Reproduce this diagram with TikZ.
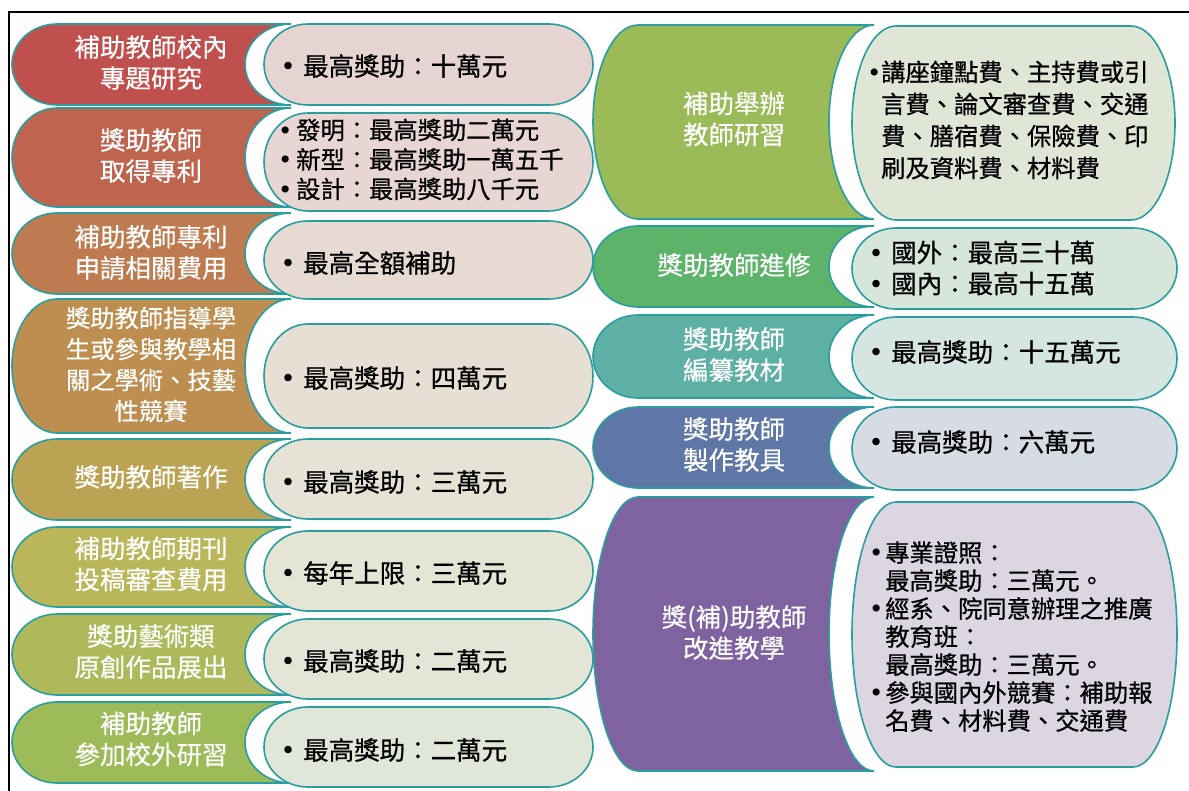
\documentclass[tikz,border=0pt]{standalone}
\usepackage{fontspec}
\newfontfamily\cjk[FakeBold=0.3]{Noto Sans CJK TC}
\newfontfamily\cjkb[FakeBold=0.7]{Noto Sans CJK TC}
\newfontfamily\bfont{DejaVu Sans}
\definecolor{tealc}{HTML}{2A9D9E}
\definecolor{l1}{HTML}{C0504D}\definecolor{q1}{HTML}{E6D4D3}
\definecolor{l2}{HTML}{BF654F}\definecolor{q2}{HTML}{E7D6D3}
\definecolor{l3}{HTML}{BE7B50}\definecolor{q3}{HTML}{E7DAD3}
\definecolor{l4}{HTML}{BD8E4F}\definecolor{q4}{HTML}{E7DED4}
\definecolor{l5}{HTML}{BCA353}\definecolor{q5}{HTML}{E6E2D5}
\definecolor{l6}{HTML}{BAB65A}\definecolor{q6}{HTML}{E5E5D6}
\definecolor{l7}{HTML}{ADB95A}\definecolor{q7}{HTML}{E3E6D7}
\definecolor{l8}{HTML}{9DBB59}\definecolor{q8}{HTML}{E1E7D8}
\definecolor{r1}{HTML}{9BBB59}\definecolor{s1}{HTML}{DFE6D6}
\definecolor{r2}{HTML}{5DB36A}\definecolor{s2}{HTML}{D6E6DA}
\definecolor{r3}{HTML}{5FB0A4}\definecolor{s3}{HTML}{D5E6E2}
\definecolor{r4}{HTML}{5E77A7}\definecolor{s4}{HTML}{D6DBE4}
\definecolor{r5}{HTML}{7F63A1}\definecolor{s5}{HTML}{DCD6E2}
% left tab: x0, xr, xb, top, bottom, fill
\newcommand\lshape[6]{%
  \pgfmathsetmacro\lry{(#5-#4)/2}%
  \pgfmathsetmacro\lrb{#2-#3}%
  \filldraw[outl, fill=#6] (#1+45,#4) -- (#2,#4)
    arc[start angle=90,end angle=270,x radius=\lrb pt,y radius=\lry pt]
    -- (#1+45,#5)
    arc[start angle=270,end angle=90,x radius=45pt,y radius=\lry pt] -- cycle;}
% pill: x0, x1, top, bottom, fill
\newcommand\pill[5]{%
  \pgfmathsetmacro\pry{(#4-#3)/2}%
  \filldraw[outl, fill=#5] (#1+44,#3) -- (#2-44,#3)
    arc[start angle=90,end angle=-90,x radius=44pt,y radius=\pry pt]
    -- (#1+44,#4)
    arc[start angle=270,end angle=90,x radius=44pt,y radius=\pry pt] -- cycle;}
\newcommand\bul[1]{\makebox[#1pt][l]{\hspace*{4pt}\makebox[0pt][c]{\bfont •}}}
\begin{document}
\begin{tikzpicture}[x=1pt,y=-1pt,
  outl/.style={draw=tealc, line width=1.6pt},
  ltext/.style={text=white, align=center, inner sep=0pt, font=\cjk\fontsize{25.5}{31}\selectfont},
  ltexts/.style={ltext, font=\cjk\fontsize{24.3}{31}\selectfont},
  ptext/.style={text=black, align=left, anchor=west, inner sep=0pt, font=\cjkb\fontsize{25.5}{31}\selectfont},
  ptexts/.style={ptext, font=\cjkb\fontsize{24.3}{29.5}\selectfont},
]
\useasboundingbox (0,0) rectangle (1189,790);
\clip (0,0) rectangle (1189,790);
\fill[white] (0,0) rectangle (1189,790);
\draw[line width=1.6pt] (9,12) rectangle (1230,840);

% ---------- left column ----------
\lshape{12}{291}{245}{24}{105}{l1}  \pill{264}{593}{24}{105}{q1}
\lshape{12}{291}{245}{108}{207}{l2} \pill{264}{593}{113}{211}{q2}
\lshape{12}{291}{245}{213}{294}{l3} \pill{264}{593}{221}{299}{q3}
\lshape{12}{291}{245}{299}{433}{l4} \pill{264}{593}{324}{428}{q4}
\lshape{12}{291}{245}{439}{520}{l5} \pill{264}{593}{439}{519}{q5}
\lshape{12}{291}{245}{527}{607}{l6} \pill{264}{593}{531}{611}{q6}
\lshape{12}{291}{245}{614}{695}{l7} \pill{264}{593}{619}{699}{q7}
\lshape{12}{291}{245}{702}{783}{l8} \pill{264}{593}{707}{787}{q8}

\node[ltext] (t1) at (151,62.5) {補助教師校內\\專題研究};
\node[ltext] (t2) at (151,155.5) {獎助教師\\取得專利};
\node[ltext] (t3) at (151,252.5) {補助教師專利\\申請相關費用};
\node[ltexts] (t4) at (151,364.5) {獎助教師指導學\\生或參與教學相\\關之學術、技藝\\性競賽};
\node[ltext] (t5) at (151,477) {獎助教師著作};
\node[ltext] (t6) at (151,564) {補助教師期刊\\投稿審查費用};
\node[ltext] (t7) at (151,651.5) {獎助藝術類\\原創作品展出};
\node[ltext] (t8) at (151,739) {補助教師\\參加校外研習};

\node[ptext] (u1) at (284,66) {\bul{19}最高獎助：十萬元};
\node[ptexts] (u2) at (281,159.5) {\bul{15}發明：最高獎助二萬元\\\bul{15}新型：最高獎助一萬五千\\\bul{15}設計：最高獎助八千元};
\node[ptext] (u3) at (284,263) {\bul{19}最高全額補助};
\node[ptext] (u4) at (284,378) {\bul{19}最高獎助：四萬元};
\node[ptext] (u5) at (284,482) {\bul{19}最高獎助：三萬元};
\node[ptext] (u6) at (284,573) {\bul{19}每年上限：三萬元};
\node[ptext] (u7) at (284,661) {\bul{19}最高獎助：二萬元};
\node[ptext] (u8) at (284,750) {\bul{19}最高獎助：二萬元};

% ---------- right column ----------
\lshape{593}{874}{829}{25}{219}{r1}  \pill{852}{1175}{26}{220}{s1}
\lshape{593}{874}{829}{226}{307}{r2} \pill{852}{1177}{228}{309}{s2}
\lshape{593}{874}{829}{315}{398}{r3} \pill{852}{1177}{317}{400}{s3}
\lshape{593}{874}{829}{407}{488}{r4} \pill{852}{1177}{407}{490}{s4}
\lshape{593}{874}{829}{497}{771}{r5} \pill{852}{1177}{502}{767}{s5}

\node[ltext] (v1) at (734,119) {補助舉辦\\教師研習};
\node[ltext] (v2) at (734,265) {獎助教師進修};
\node[ltext] (v3) at (734,354.5) {獎助教師\\編纂教材};
\node[ltext] (v4) at (734,444.5) {獎助教師\\製作教具};
\node[ltext] (v5) at (734,632.5) {獎(補)助教師\\改進教學};

\node[ptexts, font=\cjkb\fontsize{24.3}{32}\selectfont] (w1) at (870,120) {\bul{11}講座鐘點費、主持費或引\\\hspace*{11pt}言費、論文審查費、交通\\\hspace*{11pt}費、膳宿費、保險費、印\\\hspace*{11pt}刷及資料費、材料費};
\node[ptext, font=\cjkb\fontsize{25.5}{31}\selectfont] (w2) at (872,268) {\bul{19}國外：最高三十萬\\\bul{19}國內：最高十五萬};
\node[ptext] (w3) at (872,352) {\bul{19}最高獎助：十五萬元};
\node[ptext] (w4) at (872,442) {\bul{19}最高獎助：六萬元};
\node[ptexts, font=\cjkb\fontsize{24.3}{28}\selectfont] (w5) at (872,636.5) {\bul{13}專業證照：\\\hspace*{13pt}最高獎助：三萬元。\\\bul{13}經系、院同意辦理之推廣\\\hspace*{13pt}教育班：\\\hspace*{13pt}最高獎助：三萬元。\\\bul{13}參與國內外競賽：補助報\\\hspace*{13pt}名費、材料費、交通費};
\end{tikzpicture}
\end{document}
